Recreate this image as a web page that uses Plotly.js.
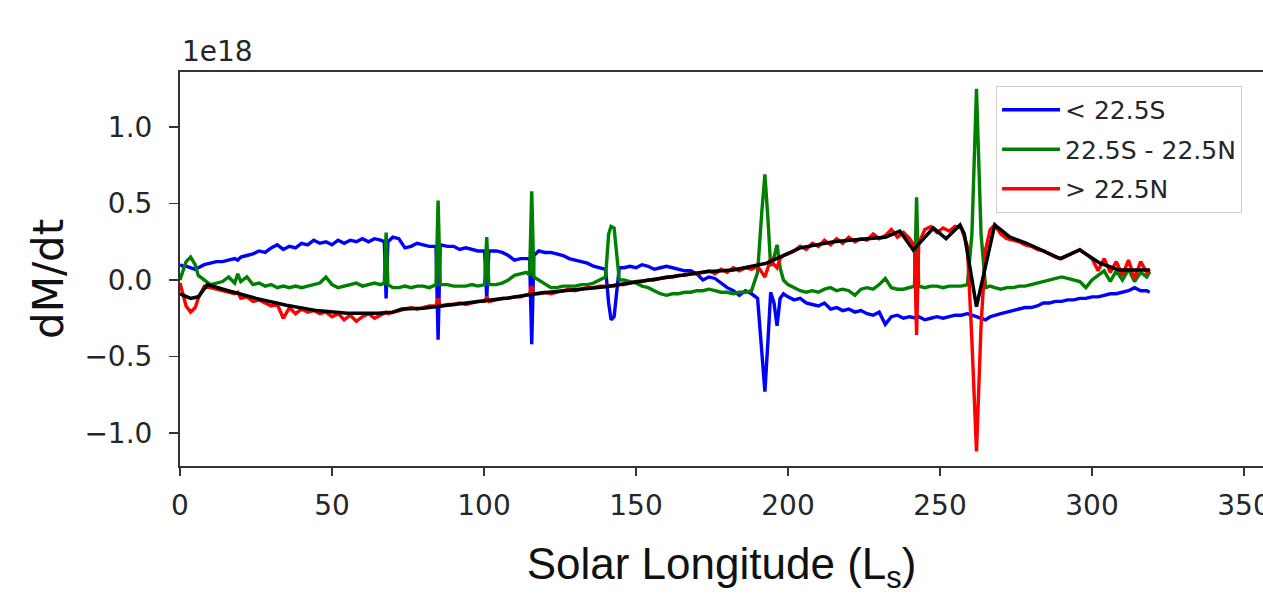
<!DOCTYPE html>
<html>
<head>
<meta charset="utf-8">
<script src="https://cdn.plot.ly/plotly-3.0.1.min.js"></script>
<style>html,body{margin:0;padding:0;background:#fff;}#chart{width:1263px;height:595px;}</style>
</head>
<body>
<div id="chart"></div>
<script>
// Solar longitude (Ls) sample positions for the three latitude bands
const ls = [0,1,2,3.5,5,6,8,10,12,14,16,18,19,20,22,24,26,28,30,32,
  34,36,38,40,42,44,46,48,50,52,54,56,58,60,62,64,66,67.2,67.8,68.4,
  70,72,74,76,78,80,82,84.2,84.9,85.6,88,90,92,94,96,98,100.2,100.9,101.6,104,
  106,108,110,112,114,115,115.7,116.4,118,120,122,124,126,128,130,132,134,136,138,140,
  141,141.8,142.8,143.6,144.5,146,148,150,152,154,156,158,160,162,164,166,168,170,172,174,
  176,178,180,182,184,186,188,190,191.4,192.4,193.4,194.3,195.4,196.4,197.4,198.5,200,202,204,206,
  208,210,212,214,216,218,220,222,224,226,228,230,232,234,236,238,240,241.6,242.3,243,
  245,247,249,251,253,255,257,259,260.5,262,263.5,265,266.5,268,270,272,274,276,278,280,
  282,284,286,288,290,292,294,296,298,300,302,304,306,308,310,312,314,316,318,319];

// dM/dt (x1e18), latitude < 22.5S
const southBand = [0.10,0.09,0.09,0.08,0.07,0.08,0.10,0.11,0.12,0.12,0.13,0.14,0.13,0.15,0.16,0.17,0.19,0.18,0.21,0.23,
  0.20,0.22,0.21,0.24,0.23,0.26,0.24,0.25,0.23,0.26,0.24,0.26,0.25,0.27,0.25,0.27,0.26,0.25,-0.12,0.25,
  0.28,0.27,0.21,0.22,0.24,0.23,0.22,0.22,-0.39,0.23,0.22,0.22,0.20,0.21,0.20,0.19,0.19,-0.12,0.19,0.19,
  0.18,0.16,0.13,0.14,0.14,0.14,-0.42,0.16,0.19,0.18,0.18,0.17,0.16,0.14,0.13,0.12,0.11,0.09,0.08,0.07,
  -0.15,-0.26,-0.24,-0.10,0.08,0.08,0.09,0.08,0.10,0.09,0.07,0.08,0.09,0.08,0.07,0.06,0.06,0.04,0.00,0.02,
  0.01,-0.02,-0.05,-0.07,-0.10,-0.07,-0.09,-0.12,-0.45,-0.73,-0.40,-0.08,-0.15,-0.30,-0.12,-0.09,-0.11,-0.13,-0.12,-0.15,
  -0.16,-0.17,-0.15,-0.19,-0.18,-0.20,-0.19,-0.21,-0.20,-0.22,-0.23,-0.21,-0.29,-0.24,-0.23,-0.25,-0.24,-0.25,-0.25,-0.24,
  -0.26,-0.25,-0.24,-0.25,-0.24,-0.23,-0.23,-0.22,-0.23,-0.24,-0.25,-0.26,-0.24,-0.23,-0.22,-0.21,-0.20,-0.19,-0.18,-0.18,
  -0.17,-0.15,-0.15,-0.14,-0.14,-0.13,-0.13,-0.12,-0.12,-0.11,-0.11,-0.10,-0.09,-0.09,-0.08,-0.07,-0.05,-0.07,-0.07,-0.08];

// dM/dt (x1e18), latitude 22.5S - 22.5N
const equatorBand = [0.00,0.06,0.12,0.15,0.10,0.03,0.00,-0.03,-0.02,-0.01,0.02,-0.02,0.04,-0.01,0.02,-0.03,-0.02,-0.04,-0.03,-0.05,
  -0.04,-0.05,-0.04,-0.05,-0.04,-0.03,-0.02,0.02,-0.03,-0.05,-0.04,-0.03,-0.02,-0.04,-0.03,-0.02,-0.03,-0.02,0.31,-0.03,
  -0.05,-0.05,-0.04,-0.05,-0.04,-0.04,-0.05,-0.03,0.52,-0.03,-0.03,-0.04,-0.04,-0.04,-0.03,-0.04,-0.03,0.28,-0.03,-0.03,
  -0.02,0.00,0.03,0.04,0.05,0.03,0.58,0.02,0.00,-0.03,-0.05,-0.05,-0.04,-0.04,-0.04,-0.03,-0.03,-0.02,0.00,0.02,
  0.30,0.35,0.34,0.20,0.00,0.00,-0.01,-0.02,-0.04,-0.05,-0.07,-0.09,-0.10,-0.09,-0.09,-0.08,-0.08,-0.07,-0.07,-0.06,
  -0.07,-0.08,-0.08,-0.09,-0.08,-0.08,-0.07,0.05,0.45,0.69,0.40,0.09,0.15,0.23,0.08,0.00,-0.03,-0.05,-0.07,-0.08,
  -0.07,-0.08,-0.06,-0.05,-0.07,-0.06,-0.07,-0.10,-0.06,-0.05,-0.06,-0.03,0.01,-0.05,-0.06,-0.06,-0.05,-0.04,0.54,-0.04,
  -0.05,-0.04,-0.04,-0.05,-0.04,-0.04,-0.04,-0.03,0.30,1.25,0.30,-0.05,-0.04,-0.05,-0.06,-0.05,-0.05,-0.04,-0.04,-0.03,
  -0.02,-0.01,0.00,0.01,0.02,0.01,0.00,-0.01,-0.05,0.00,0.03,0.06,-0.01,0.06,0.00,0.07,-0.01,0.05,0.02,0.055];

// dM/dt (x1e18), latitude > 22.5N
const northBand = [-0.02,-0.10,-0.17,-0.21,-0.18,-0.12,-0.04,-0.05,-0.06,-0.07,-0.08,-0.09,-0.08,-0.12,-0.11,-0.14,-0.13,-0.15,-0.17,-0.16,
  -0.25,-0.18,-0.22,-0.19,-0.21,-0.20,-0.22,-0.21,-0.24,-0.22,-0.26,-0.23,-0.27,-0.24,-0.22,-0.25,-0.23,-0.22,-0.21,-0.22,
  -0.21,-0.20,-0.19,-0.18,-0.19,-0.18,-0.17,-0.17,-0.12,-0.17,-0.16,-0.16,-0.15,-0.16,-0.15,-0.14,-0.14,-0.11,-0.14,-0.13,
  -0.12,-0.12,-0.11,-0.11,-0.10,-0.09,-0.04,-0.09,-0.09,-0.08,-0.09,-0.08,-0.07,-0.06,-0.07,-0.06,-0.05,-0.05,-0.04,-0.04,
  -0.04,-0.04,-0.04,-0.03,-0.03,-0.03,-0.02,-0.01,-0.01,0.00,0.00,0.01,0.02,0.02,0.03,0.03,0.04,0.04,0.05,0.06,
  0.04,0.07,0.05,0.08,0.06,0.08,0.07,0.09,0.05,0.02,0.08,0.14,0.10,0.08,0.14,0.16,0.17,0.19,0.22,0.20,
  0.24,0.22,0.26,0.23,0.27,0.24,0.28,0.25,0.27,0.26,0.30,0.27,0.29,0.33,0.28,0.31,0.27,0.22,-0.36,0.24,
  0.33,0.35,0.31,0.34,0.32,0.35,0.34,0.22,-0.40,-1.12,-0.30,0.20,0.33,0.36,0.30,0.27,0.26,0.25,0.23,0.22,
  0.20,0.19,0.17,0.15,0.14,0.16,0.18,0.20,0.17,0.14,0.06,0.14,0.05,0.12,0.03,0.13,0.01,0.12,0.05,0.07];

// Smoothed total (black curve)
const lsTotal = [0,3.5,6,9,15,25,35,45,55,65,70,73,80,85,96,107,118,129,140,151,
  162,173,182,193,204,215,226,232,236.8,241.2,247.8,252,256.6,258,262,268,273,278.5,289.5,296,
  302.6,309,319];
const total = [-0.09,-0.12,-0.11,-0.03,-0.065,-0.12,-0.165,-0.20,-0.218,-0.218,-0.21,-0.19,-0.185,-0.174,-0.15,-0.12,-0.087,-0.065,-0.044,-0.01,
  0.02,0.054,0.065,0.11,0.21,0.25,0.27,0.28,0.32,0.196,0.34,0.27,0.36,0.30,-0.174,0.36,0.28,0.24,0.14,0.196,
  0.11,0.065,0.065];

const seriesNames = ['< 22.5S', '22.5S - 22.5N', '> 22.5N'];
const tickVals = [-1.0, -0.5, 0.0, 0.5, 1.0];
const tickText = ['\u22121.0', '\u22120.5', '0.0', '0.5', '1.0'];
const xTicks = [0, 50, 100, 150, 200, 250, 300, 350];

const tickFont = {family: 'DejaVu Sans', size: 28, color: '#262626'};

const traces = [
  {x: ls, y: southBand, name: seriesNames[0], legendgroup: 'a', mode: 'lines', line: {color: '#0000ff', width: 3.4}},
  {x: ls, y: equatorBand, name: seriesNames[1], legendgroup: 'b', mode: 'lines', line: {color: '#008000', width: 3.4}},
  {x: ls, y: northBand, name: seriesNames[2], legendgroup: 'c', mode: 'lines', line: {color: '#ff0000', width: 3.4}},
  {x: lsTotal, y: total, name: 'total', showlegend: false, mode: 'lines', line: {color: '#000000', width: 3.5}}
];

const layout = {
  width: 1263, height: 595,
  margin: {l: 180, r: 0, t: 72, b: 129, pad: 0},
  paper_bgcolor: '#ffffff', plot_bgcolor: '#ffffff',
  showlegend: true,
  xaxis: {
    range: [0, 356.25], tickvals: xTicks, ticks: 'outside', ticklen: 8, tickwidth: 1.5, tickcolor: '#333',
    showline: true, linecolor: '#333', linewidth: 2, mirror: true, showgrid: false, zeroline: false,
    tickfont: tickFont, ticklabelstandoff: 5, ticklabeloverflow: 'allow',
    title: {text: 'Solar Longitude (L<sub>s</sub>)', font: {family: 'Liberation Sans Narrow, Liberation Sans', size: 44, color: '#111'}, standoff: 44}
  },
  yaxis: {
    range: [-1.2157, 1.3595], tickvals: tickVals, ticktext: tickText, ticks: 'outside', ticklen: 9, tickwidth: 1.5, tickcolor: '#333',
    showline: true, linecolor: '#333', linewidth: 2, mirror: false, showgrid: false, zeroline: false,
    tickfont: tickFont, ticklabelstandoff: 11
  },
  legend: {
    x: 0.7535, y: 0.9645, xanchor: 'left', yanchor: 'top',
    bgcolor: 'rgba(255,255,255,0.85)', bordercolor: '#cccccc', borderwidth: 1,
    font: {family: 'DejaVu Sans', size: 25, color: '#262626'},
    tracegroupgap: 4, itemwidth: 58, entrywidth: 272
  },
  annotations: [
    {text: '1e18', xref: 'paper', yref: 'paper', x: 0, y: 1, xanchor: 'left', yanchor: 'bottom', yshift: 2, showarrow: false,
     font: {family: 'DejaVu Sans', size: 28, color: '#262626'}},
    {text: 'dM/dt', xref: 'paper', yref: 'paper', x: -0.1219, y: 0.4746, xanchor: 'center', yanchor: 'middle', textangle: -90, showarrow: false,
     font: {family: 'DejaVu Sans', size: 42, color: '#111'}}
  ]
};

Plotly.newPlot('chart', traces, layout, {displayModeBar: false, staticPlot: true});
</script>
</body>
</html>
